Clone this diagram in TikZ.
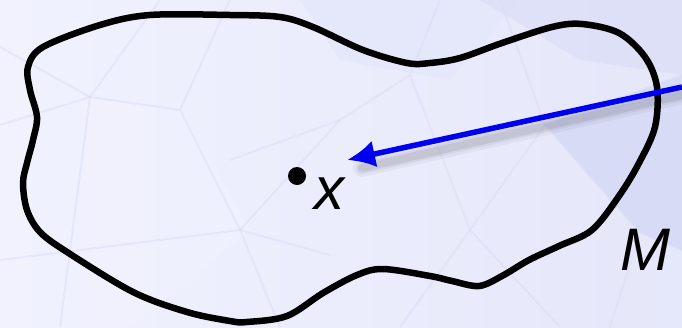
\documentclass[tikz,border=0pt]{standalone}
\usepackage{fontspec}
\setmainfont{Liberation Sans}
\usetikzlibrary{arrows.meta}
\definecolor{bgbase}{HTML}{E5E7FA}
\definecolor{bglight}{HTML}{F1F2FE}
\definecolor{bgdark}{HTML}{D7DAF6}
\definecolor{pat}{HTML}{DADDF7}
\definecolor{arrowblue}{HTML}{0000F0}
\tikzset{
  blob/.style={line width=6.5pt, black, line join=round},
  patline/.style={pat, line width=2pt, opacity=0.5},
  lbl/.style={font=\fontsize{60}{72}\selectfont\itshape, inner sep=0pt, anchor=base},
  ptr/.style={arrowblue, line width=5.5pt, -{Latex[length=28pt,width=27pt]}},
  ptrshadow/.style={black, line cap=round},
}
\begin{document}
\begin{tikzpicture}[x=1pt,y=-1pt]
\useasboundingbox (0,0) rectangle (682,327);
% background
\fill[left color=bglight, right color=bgbase] (0,0) rectangle (682,327);
\fill[bglight, opacity=0.8] (0,47) -- (90,97) -- (130,327) -- (0,327) -- cycle;
\fill[bglight, opacity=0.6] (90,97) -- (180,110) -- (250,230) -- (130,327) -- cycle;
\fill[bgbase] (300,0) -- (520,0) -- (450,80) -- (340,60) -- cycle;
\fill[bgdark, opacity=0.9] (545,125) -- (682,75) -- (682,250) -- (640,233) -- cycle;
\fill[bgdark, opacity=0.5] (480,0) -- (682,0) -- (682,75) -- (580,60) -- cycle;
\draw[patline] (0,47) -- (90,97) -- (180,110);
\draw[patline] (90,97) -- (60,327);
\draw[patline] (90,97) -- (160,0);
\draw[patline] (90,97) -- (0,125);
\draw[patline] (0,260) -- (240,230) -- (330,255);
\draw[patline] (240,230) -- (280,327);
\draw[patline] (240,230) -- (180,110) -- (230,0);
\draw[patline] (240,230) -- (340,120) -- (410,75);
\draw[patline] (410,75) -- (440,0);
\draw[patline] (410,75) -- (470,230) -- (560,327);
\draw[patline] (470,230) -- (400,327);
\draw[patline] (470,230) -- (545,125) -- (682,75);
\draw[patline] (545,125) -- (640,233) -- (682,250);
\draw[patline] (640,233) -- (610,327);
\draw[patline] (545,125) -- (500,0);
\draw[patline] (230,160) -- (340,120);
% blob
\draw[blob] plot[smooth cycle, tension=0.55] coordinates {
 (28,67) (43,47) (100,25) (150,15) (230,15) (280,17) (313,27) (363,50)
 (407,63) (430,63) (460,58) (502,43) (552,27) (582,24) (619,33) (645,57)
 (657,87) (655,127) (639,163) (619,196) (592,230) (559,246) (529,260)
 (502,276) (479,286) (452,281) (430,276) (383,269) (357,275) (323,293)
 (287,316) (247,322) (230,321) (187,312) (133,292) (67,252) (40,232)
 (27,210) (23,183) (27,163) (33,140) (37,117) (30,90)};
% point and labels
\fill (297,176) circle (9pt) node (xpt) [inner sep=0pt] {};
\node[lbl] (xlab) at (329,209) {x};
\node[lbl] (mlab) at (645,270) {M};
% arrow with soft shadow
\coordinate (src) at (682,87);
\coordinate (tip) at (347,160);
\coordinate (srcs) at (682,95);
\coordinate (tips) at (362,168);
\foreach \w/\o in {18/0.04,12/0.05,8/0.07}{
  \draw[ptrshadow, line width=\w pt, opacity=\o] (srcs) -- (tips);
}
\draw[ptr] (src) -- (tip);
\end{tikzpicture}
\end{document}
